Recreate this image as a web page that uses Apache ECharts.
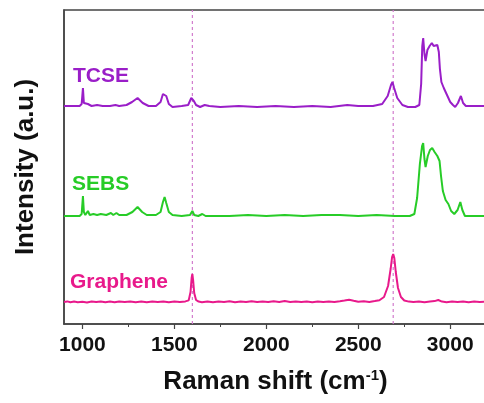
<!DOCTYPE html>
<html>
<head>
<meta charset="utf-8">
<script src="https://cdn.jsdelivr.net/npm/echarts@6/dist/echarts.min.js"></script>
<style>
  html, body { margin: 0; padding: 0; background: #fff; }
  #chart { width: 484px; height: 403px; }
</style>
</head>
<body>
<div id="chart"></div>
<script>
// Raman spectra, stacked with a vertical offset (arbitrary units).
// Each point is [Raman shift (cm^-1), intensity].
const graphene = [
  [900,22],[918,22.6],[935,21.7],[955,22.4],[975,21.8],[1000,22.3],[1025,21.6],[1050,22.5],
  [1075,21.9],[1100,22.6],[1125,21.8],[1150,22.4],[1175,21.7],[1200,22.5],[1230,21.9],
  [1260,22.6],[1290,21.8],[1320,22.4],[1350,21.7],[1380,22.5],[1410,22.0],[1440,22.6],
  [1470,21.8],[1500,22.4],[1530,21.9],[1560,22.6],[1578,23.6],[1588,32],[1594,46],[1598,50],
  [1602,44],[1608,31],[1618,24],[1632,22.4],[1650,21.8],[1680,22.6],[1710,21.7],[1740,22.4],
  [1770,21.9],[1800,22.7],[1830,21.8],[1860,22.5],[1890,21.9],[1920,22.8],[1950,22.0],
  [1980,22.6],[2010,21.9],[2040,22.7],[2070,22.1],[2100,22.9],[2130,22.0],[2160,22.6],
  [2190,21.9],[2220,22.5],[2250,21.8],[2280,22.4],[2310,21.9],[2340,22.5],[2370,22.1],
  [2400,22.8],[2425,23.4],[2450,24.2],[2475,23.2],[2500,22.3],[2530,22.8],[2560,22.1],
  [2590,22.9],[2615,23.8],[2640,27],[2662,38],[2676,55],[2684,67],[2690,70],[2696,66],
  [2704,52],[2716,36],[2732,27],[2750,23.5],[2775,22.4],[2800,21.9],[2830,22.6],[2860,21.8],
  [2890,22.5],[2915,22.9],[2935,24],[2955,22.4],[2980,21.8],[3010,22.6],[3040,21.9],
  [3070,22.5],[3100,21.8],[3130,22.4],[3160,21.9],[3200,22.3]
];

const sebs = [
  [900,108],[950,108],[985,108],[996,110],[1003,128],[1008,112],[1016,109],[1030,113],[1040,109],
  [1060,110],[1080,109],[1100,110],[1130,109],[1155,111],[1168,109],[1185,111],[1200,109],
  [1240,109],[1272,112],[1300,117],[1325,112],[1350,109],[1400,109],[1425,112],[1438,122],
  [1447,127],[1456,121],[1470,112],[1490,109],[1540,108],[1585,109],[1598,113],[1608,109],
  [1630,108],[1652,110],[1670,108],[1720,108],[1800,108],[1900,109],[2000,108],[2100,109],
  [2200,108],[2300,109],[2400,109],[2500,108],[2600,109],[2700,108],[2780,108],[2805,110],
  [2820,126],[2835,160],[2847,178],[2853,181],[2860,165],[2866,157],[2878,168],[2890,174],
  [2902,176],[2915,172],[2930,168],[2942,163],[2950,148],[2960,133],[2975,124],[2990,120],
  [3005,113],[3022,110],[3040,114],[3055,122],[3066,114],[3080,108],[3120,108],[3200,108]
];

const tcse = [
  [900,218],[950,218],[985,218],[996,220],[1003,236],[1008,221],[1016,219],[1030,220],
  [1050,218],[1080,219],[1110,218],[1150,218],[1180,219],[1200,218],[1240,219],[1270,222],
  [1300,226],[1328,221],[1360,218],[1400,218],[1425,222],[1438,230],[1447,232],[1456,228],
  [1470,220],[1490,217],[1540,218],[1575,219],[1592,226],[1600,228],[1606,223],[1618,219],
  [1640,217],[1665,219],[1690,218],[1750,217],[1850,218],[1950,217],[2050,218],[2150,217],
  [2250,218],[2350,217],[2440,219],[2500,218],[2580,218],[2630,220],[2660,228],[2678,239],
  [2686,242],[2695,236],[2712,226],[2740,219],[2770,217],[2810,217],[2832,219],[2842,240],
  [2848,278],[2853,286],[2860,270],[2866,263],[2876,274],[2888,278],[2900,281],[2910,278],
  [2920,279],[2930,279],[2938,272],[2944,255],[2952,242],[2965,236],[2985,228],[3000,222],
  [3015,219],[3027,217],[3042,221],[3058,228],[3070,221],[3085,218],[3120,218],[3200,218]
];

// Band positions marked with dashed guide lines (G and 2D bands)
const bandLines = [1598, 2690];

// X axis range and tick positions
const xRange = [900, 3200];
const majorTicks = [1000, 1500, 2000, 2500, 3000];
const minorTicks = [1250, 1750, 2250, 2750];
const yRange = [0, 314];

const colors = { tcse: '#9a1ec8', sebs: '#27cc27', graphene: '#e8198b', guide: '#d27ccd' };
const fontFam = '"Liberation Sans", Arial, sans-serif';

const chart = echarts.init(document.getElementById('chart'));

const lineSeries = (name, data, color) => ({
  name: name,
  type: 'line',
  data: data,
  showSymbol: false,
  symbol: 'none',
  lineStyle: { color: color, width: 2 },
  z: 3
});

const guideSeries = bandLines.map(v => ({
  type: 'line',
  data: [[v, yRange[0]], [v, yRange[1]]],
  showSymbol: false,
  symbol: 'none',
  silent: true,
  lineStyle: { color: colors.guide, type: [3, 3], width: 1.2 },
  z: 2
}));

const axisColor = '#444';

chart.setOption({
  animation: false,
  backgroundColor: '#ffffff',
  grid: {
    left: 64, top: 10, width: 423, height: 314,
    outerBoundsMode: 'none',
    containLabel: false,
    show: true, borderColor: axisColor, borderWidth: 1.5
  },
  xAxis: [
    {
      type: 'value',
      min: xRange[0],
      max: xRange[1],
      axisLine: { show: true, onZero: false, lineStyle: { color: axisColor, width: 1.5 } },
      axisTick: {
        show: true, inside: false, length: 5, customValues: majorTicks,
        lineStyle: { color: axisColor, width: 1.2 }
      },
      splitLine: { show: false },
      axisLabel: {
        margin: 11,
        customValues: majorTicks,
        formatter: v => String(v),
        fontFamily: fontFam,
        fontWeight: 'bold', fontSize: 21, color: '#111'
      },
      name: 'Raman shift (cm{sup|-1})',
      nameLocation: 'middle',
      nameGap: 44,
      nameTextStyle: {
        fontFamily: fontFam,
        fontWeight: 'bold', fontSize: 26, color: '#111',
        rich: {
          sup: {
            fontFamily: fontFam,
            fontWeight: 'bold', fontSize: 15, color: '#111',
            verticalAlign: 'top', padding: [0, 0, 13, 0]
          }
        }
      }
    },
    {
      // minor ticks between labelled values
      type: 'value',
      position: 'bottom',
      min: xRange[0],
      max: xRange[1],
      axisLine: { show: false, onZero: false },
      axisTick: {
        show: true, inside: false, length: 3, customValues: minorTicks,
        lineStyle: { color: axisColor, width: 1 }
      },
      axisLabel: { show: false },
      splitLine: { show: false }
    }
  ],
  yAxis: {
    type: 'value',
    min: yRange[0],
    max: yRange[1],
    axisLine: { show: true, lineStyle: { color: axisColor, width: 1.5 } },
    axisTick: { show: false },
    axisLabel: { show: false },
    splitLine: { show: false },
    name: 'Intensity (a.u.)',
    nameLocation: 'middle',
    nameGap: 25,
    nameTextStyle: {
      fontFamily: fontFam,
      fontWeight: 'bold', fontSize: 26, color: '#111'
    }
  },
  series: guideSeries.concat([
    lineSeries('Graphene', graphene, colors.graphene),
    lineSeries('SEBS', sebs, colors.sebs),
    lineSeries('TCSE', tcse, colors.tcse)
  ]),
  graphic: [
    { type: 'text', left: 73, top: 66, z: 10,
      style: { text: 'TCSE', fill: colors.tcse, font: 'bold 21px ' + fontFam } },
    { type: 'text', left: 72, top: 174, z: 10,
      style: { text: 'SEBS', fill: colors.sebs, font: 'bold 21px ' + fontFam } },
    { type: 'text', left: 70, top: 272, z: 10,
      style: { text: 'Graphene', fill: colors.graphene, font: 'bold 21px ' + fontFam } }
  ]
});
</script>
</body>
</html>
